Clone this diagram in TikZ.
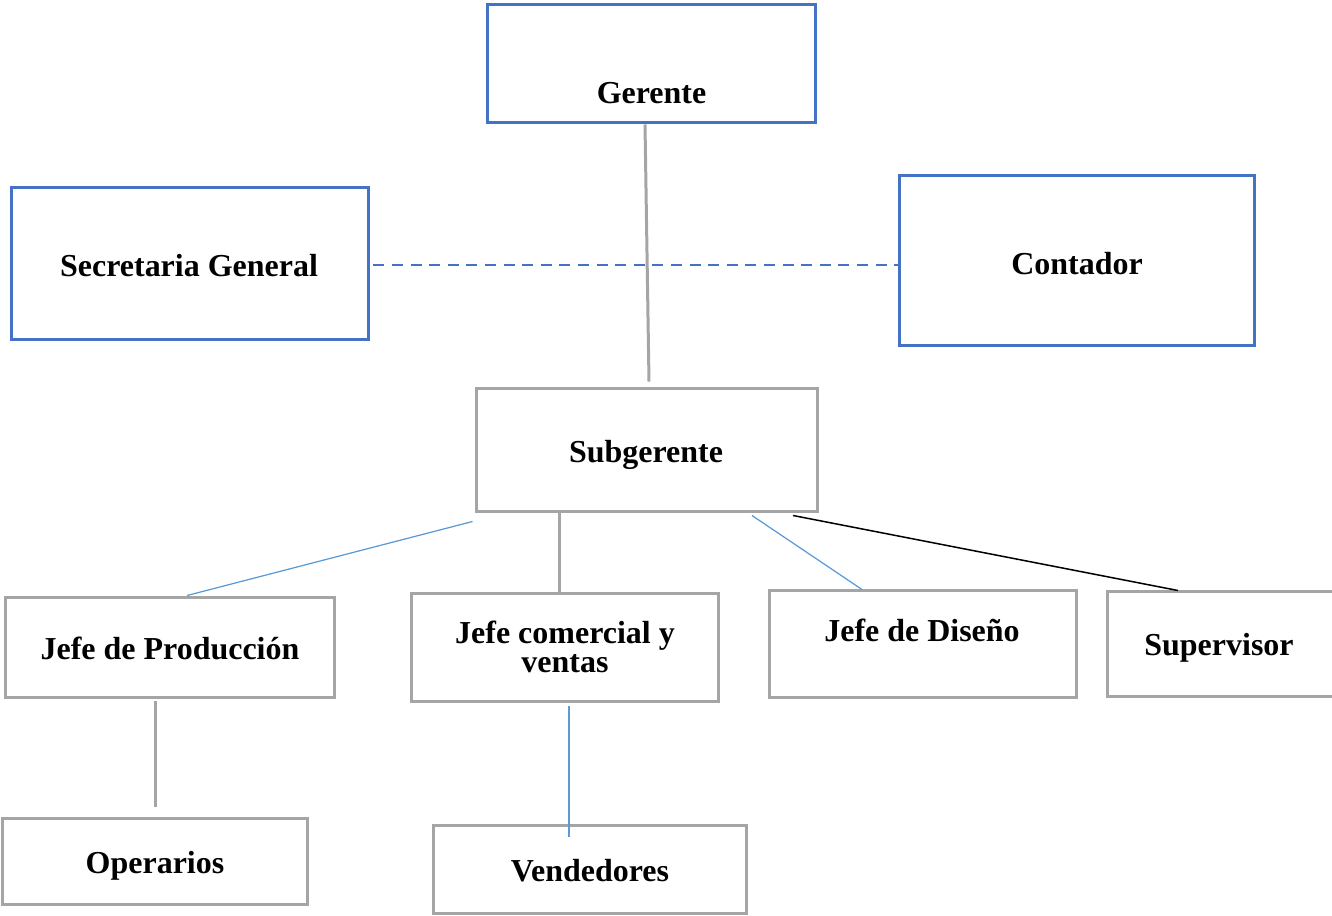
\documentclass[tikz,border=0pt]{standalone}
\usepackage{fontspec}
\setmainfont{Liberation Serif}
\usetikzlibrary{calc}
\definecolor{boxblue}{HTML}{4472C4}
\definecolor{boxgray}{HTML}{A5A5A5}
\definecolor{lineblue}{HTML}{5B9BD5}
\tikzset{
  bluebox/.style={draw=boxblue, line width=0.06cm, inner sep=0pt},
  graybox/.style={draw=boxgray, line width=0.06cm, inner sep=0pt},
  title/.style={font=\fontsize{18.2}{16.5}\selectfont\bfseries, align=center},
  grayline/.style={draw=boxgray, line width=0.06cm},
  thinblue/.style={draw=lineblue, line width=0.025cm},
  thinblack/.style={draw=black, line width=0.03cm},
  dashblue/.style={draw=boxblue, line width=0.05cm, dash pattern=on 0.22cm off 0.152cm},
}
\begin{document}
\begin{tikzpicture}[x=0.02cm, y=-0.02cm]
\useasboundingbox (0,0) rectangle (1332,916);

% Box Gerente
\node[bluebox, minimum width=6.58cm, minimum height=2.38cm] (ger) at (651.5,63.5) {};%
\node[title] (ger-t) at ($(ger)+(0,30)$) {Gerente};%

% Box Secretaria General
\node[bluebox, minimum width=7.16cm, minimum height=3.06cm] (sec) at (190,263.5) {};%
\node[title] (sec-t) at ($(sec)+(-1,2.5)$) {Secretaria General};%

% Box Contador
\node[bluebox, minimum width=7.12cm, minimum height=3.42cm] (con) at (1077,260.5) {};%
\node[title] (con-t) at ($(con)+(0,3.5)$) {Contador};%

% Box Subgerente
\node[graybox, minimum width=6.84cm, minimum height=2.48cm] (sub) at (647,450) {};%
\node[title] (sub-t) at ($(sub)+(-1,5)$) {Subgerente};%

% Boxes of the third row
\node[graybox, minimum width=6.6cm, minimum height=2.02cm] (jp) at (170,647.5) {};%
\node[title] (jp-t) at ($(jp)+(0,0.5)$) {Jefe de Producción};%
\node[graybox, minimum width=6.16cm, minimum height=2.18cm] (jc) at (565,647.5) {};%
\node[title] (jc-t) at ($(jc)+(0,-1)$) {Jefe comercial y\\ventas};%
\node[graybox, minimum width=6.16cm, minimum height=2.16cm] (jd) at (923,644) {};%
\node[title] (jd-t) at ($(jd)+(-1,-14)$) {Jefe de Diseño};%
\node[graybox, minimum width=4.58cm, minimum height=2.12cm] (sup) at (1221.5,644) {};%
\node[title] (sup-t) at ($(sup)+(-2.5,3.5)$) {Supervisor};%

% Boxes of the last row
\node[graybox, minimum width=6.12cm, minimum height=1.72cm] (ope) at (155,861) {};%
\node[title] (ope-t) at ($(ope)+(0,5)$) {Operarios};%
\node[graybox, minimum width=6.28cm, minimum height=1.76cm] (ven) at (590,869) {};%
\node[title] (ven-t) at ($(ven)+(0,2)$) {Vendedores};%

% Lines from Gerente
\draw[grayline] ($(ger.south)+(-6.5,0)$) -- ($(sub.north)+(2,-5)$);%
\draw[dashblue] ($(sec.east)+(3,1.5)$) -- ($(con.west)+(0,4.5)$);%

% Lines from Subgerente
\draw[thinblue] ($(sub.south west)+(-2,8)$) -- ($(jp.north)+(17,0)$);%
\draw[grayline] ($(sub.south)+(-88,0)$) -- ($(jc.north)+(-6,0)$);%
\draw[thinblue] ($(sub.south)+(105,2)$) -- ($(jd.north)+(-61,1)$);%
\draw[thinblack] ($(sub.south)+(146,2)$) -- ($(sup.north)+(-43.5,1)$);%

% Lines to the last row
\draw[grayline] ($(jp.south)+(-15,2)$) -- ($(ope.north)+(0,-10)$);%
\draw[thinblue] ($(jc.south)+(4,3)$) -- ($(ven.north)+(-21,13)$);%
\end{tikzpicture}
\end{document}
